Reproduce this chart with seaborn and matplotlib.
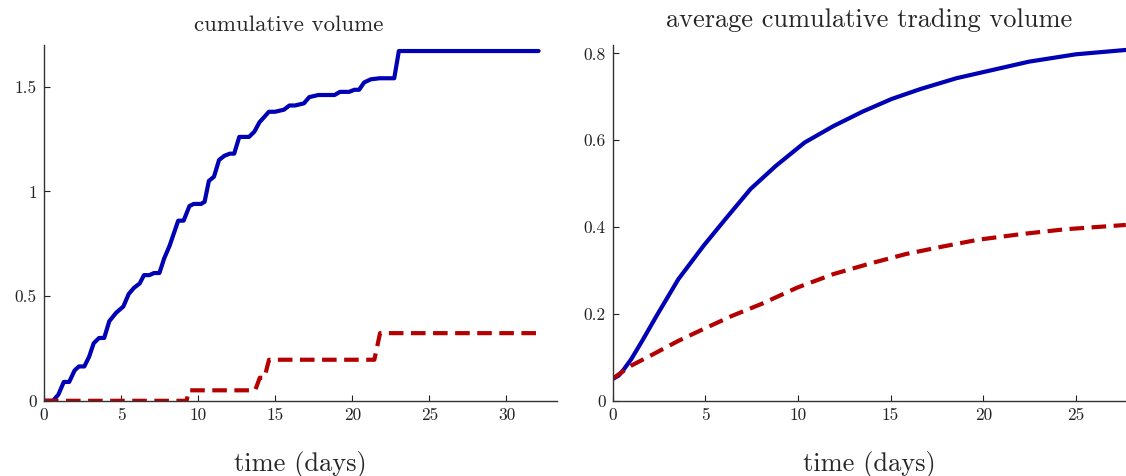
import numpy as np
import pandas as pd
import matplotlib
matplotlib.use("Agg")
import matplotlib.pyplot as plt
import seaborn as sns
from matplotlib.ticker import FuncFormatter

# left panel: cumulative volume of one sample path
left_blue_t = [0, 0.59, 0.94, 1.29, 1.64, 1.99, 2.27, 2.62, 2.93, 3.23, 3.58, 3.91, 4.24, 4.68,
               4.99, 5.15, 5.50, 5.85, 6.21, 6.49, 6.84, 7.14, 7.49, 7.80, 8.15, 8.71, 9.06,
               9.44, 9.72, 10.19, 10.42, 10.70, 11.03, 11.36, 11.71, 12.06, 12.34, 12.67,
               13.30, 13.65, 13.98, 14.29, 14.59, 14.99, 15.57, 15.92, 16.28, 16.86, 17.21,
               17.80, 18.85, 19.20, 19.79, 20.14, 20.44, 20.77, 21.20, 21.78, 22.72, 23.02,
               32.08]
left_blue_v = [0, 0.0, 0.03, 0.09, 0.09, 0.145, 0.164, 0.164, 0.21, 0.275, 0.30, 0.30, 0.38,
               0.42, 0.44, 0.45, 0.51, 0.54, 0.56, 0.60, 0.60, 0.61, 0.61, 0.68, 0.74, 0.86,
               0.86, 0.93, 0.94, 0.94, 0.95, 1.05, 1.07, 1.15, 1.17, 1.18, 1.18, 1.26, 1.26,
               1.285, 1.33, 1.355, 1.38, 1.38, 1.39, 1.41, 1.41, 1.42, 1.45, 1.46, 1.46,
               1.475, 1.475, 1.485, 1.485, 1.52, 1.535, 1.54, 1.54, 1.67, 1.67]
left_red_t = [0, 9.25, 9.41, 13.70, 14.0, 14.3, 14.6, 21.43, 21.8, 32.0]
left_red_v = [0, 0, 0.05, 0.05, 0.11, 0.11, 0.196, 0.196, 0.323, 0.323]

# right panel: average cumulative trading volume
right_blue_t = [0, 0.33, 0.62, 1.01, 1.60, 2.38, 3.55, 4.91, 6.08, 7.45, 8.81, 10.37, 11.93,
                13.49, 15.05, 16.61, 18.56, 20.51, 22.46, 25.0, 27.69]
right_blue_v = [0.050, 0.058, 0.073, 0.096, 0.138, 0.196, 0.28, 0.357, 0.418, 0.488, 0.541,
                0.595, 0.633, 0.666, 0.695, 0.718, 0.743, 0.762, 0.781, 0.798, 0.808]
right_red_t = [0, 1.01, 2.18, 3.55, 4.99, 6.47, 8.03, 9.98, 11.93, 13.88, 15.83, 17.78, 19.73,
               22.07, 24.41, 27.69]
right_red_v = [0.051, 0.081, 0.107, 0.138, 0.167, 0.196, 0.223, 0.261, 0.292, 0.316, 0.338,
               0.355, 0.371, 0.384, 0.395, 0.405]

left_yticks = [0, 0.5, 1, 1.5]
right_yticks = [0, 0.2, 0.4, 0.6, 0.8]
left_xticks = [0, 5, 10, 15, 20, 25, 30]
right_xticks = [0, 5, 10, 15, 20, 25]

BLUE = "#0000b4"
RED = "#b40000"

sns.set_style("ticks")
plt.rcParams["font.family"] = ["cmr10", "DejaVu Serif"]
plt.rcParams["axes.formatter.use_mathtext"] = True


def fmt(v, pos):
    return ("%g" % v)


def draw(ax, bt, bv, rt, rv):
    sns.lineplot(x=bt, y=bv, ax=ax, color=BLUE, lw=3.0, sort=False, estimator=None)
    sns.lineplot(x=rt, y=rv, ax=ax, color=RED, lw=3.0, sort=False, estimator=None,
                 linestyle=(0, (3.5, 1.8)))
    sns.despine(ax=ax)
    ax.tick_params(direction="in", length=4, width=0.8, labelsize=12.5, colors="#222222",
                   pad=5)
    for s in ("left", "bottom"):
        ax.spines[s].set_color("#333333")
        ax.spines[s].set_linewidth(1.0)
    ax.xaxis.set_major_formatter(FuncFormatter(fmt))
    ax.yaxis.set_major_formatter(FuncFormatter(fmt))
    ax.set_xlabel("time (days)", fontsize=19, labelpad=20)
    ax.set_ylabel("")


fig = plt.figure(figsize=(11.26, 4.76), dpi=100)
ax1 = fig.add_axes([0.039, 0.158, 0.456, 0.748])
ax2 = fig.add_axes([0.544, 0.158, 0.456, 0.748])

draw(ax1, left_blue_t, left_blue_v, left_red_t, left_red_v)
ax1.set_xlim(0, 33.3)
ax1.set_ylim(0, 1.7)
ax1.set_xticks(left_xticks)
ax1.set_yticks(left_yticks)
ax1.set_title("cumulative volume", fontsize=16.5, pad=10, x=0.476)

draw(ax2, right_blue_t, right_blue_v, right_red_t, right_red_v)
ax2.set_xlim(0, 27.7)
ax2.set_ylim(0, 0.82)
ax2.set_xticks(right_xticks)
ax2.set_yticks(right_yticks)
ax2.set_title("average cumulative trading volume", fontsize=19, pad=13)

fig.savefig("out.png", dpi=100)
